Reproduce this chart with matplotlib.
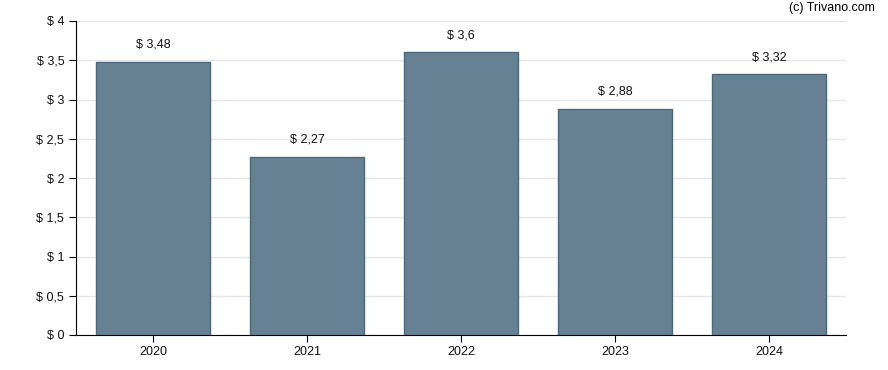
import numpy as np
import matplotlib.pyplot as plt
from matplotlib.ticker import FuncFormatter

years = ["2020", "2021", "2022", "2023", "2024"]
values = [3.48, 2.27, 3.6, 2.88, 3.32]
y_ticks = [0, 0.5, 1, 1.5, 2, 2.5, 3, 3.5, 4]


def euro_fmt(v):
    s = "{:g}".format(v).replace(".", ",")
    return "$ " + s


plt.rcParams["font.family"] = ["Liberation Sans", "DejaVu Sans"]
plt.rcParams["font.size"] = 9

fig = plt.figure(figsize=(8.88, 3.70), dpi=100)
ax = fig.add_axes([76 / 888, 1 - 335 / 370, 770 / 888, 314 / 370])

x = np.arange(len(years))
ax.bar(x, values, width=0.745, color="#668292", edgecolor="#4a677b", linewidth=1, zorder=3)

for xi, v in zip(x, values):
    ax.annotate(euro_fmt(v), (xi, v), xytext=(0, 8), textcoords="offset points",
                ha="center", va="bottom", fontsize=9, color="#111111")

ax.set_xlim(-0.5, len(years) - 0.5)
ax.set_ylim(0, 4)
ax.set_yticks(y_ticks)
ax.yaxis.set_major_formatter(FuncFormatter(lambda v, p: euro_fmt(v)))
ax.set_xticks(x)
ax.set_xticklabels(years)
ax.grid(axis="y", color="#e6e6e6", linewidth=1, zorder=0)
ax.spines["top"].set_visible(False)
ax.spines["right"].set_visible(False)
ax.tick_params(axis="both", length=5, color="black", labelcolor="#111111")
ax.tick_params(axis="x", pad=3)

fig.text(875 / 888, 1 - 8 / 370, "(c) Trivano.com", ha="right", va="center", fontsize=9)

fig.savefig("out.png", dpi=100)
